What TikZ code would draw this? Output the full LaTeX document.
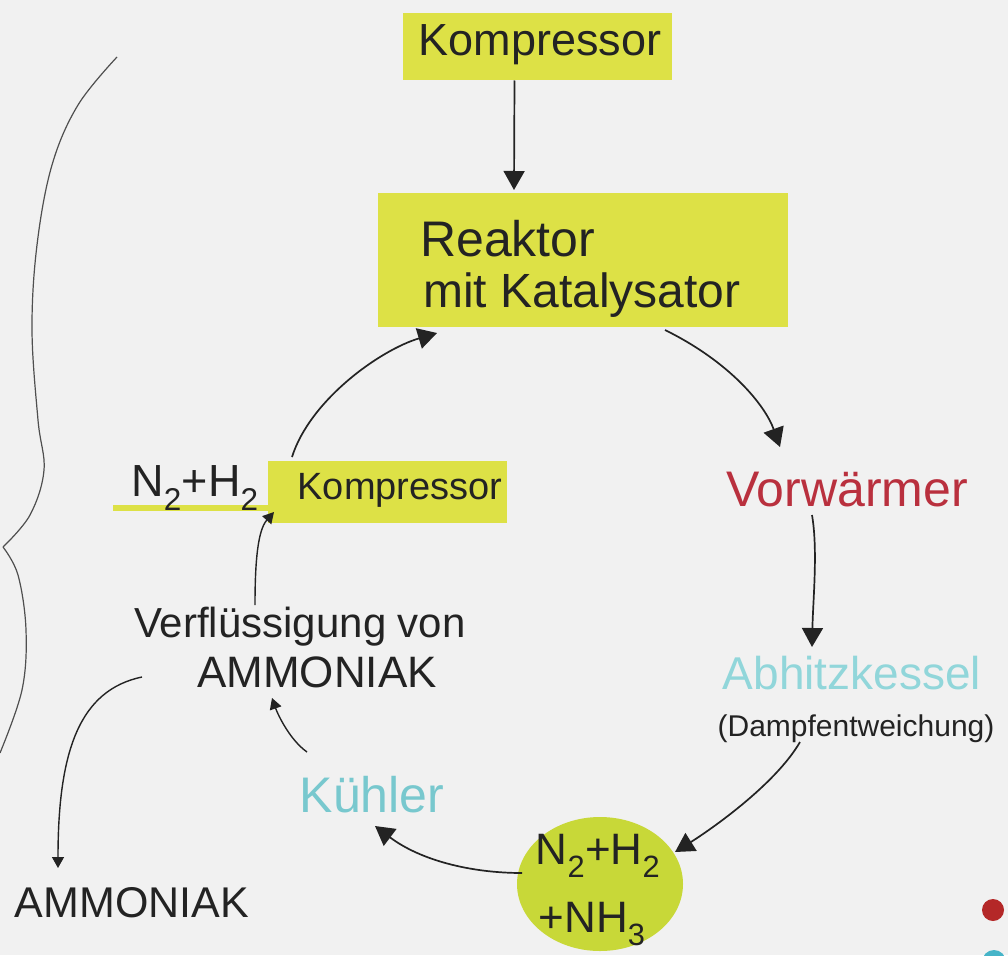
\documentclass[tikz,border=0pt]{standalone}
\usepackage{fontspec}
\setmainfont{Liberation Sans}
\usetikzlibrary{arrows.meta,shapes.geometric}
\definecolor{bgc}{RGB}{241,241,241}
\definecolor{hiyel}{RGB}{221,225,70}
\definecolor{blobc}{RGB}{200,216,56}
\definecolor{redtxt}{RGB}{185,48,62}
\definecolor{cyantxt}{RGB}{145,214,218}
\definecolor{kuehlc}{RGB}{120,200,206}
\definecolor{ink}{RGB}{35,35,35}
\definecolor{dotred}{RGB}{180,40,40}
\definecolor{dotcyan}{RGB}{70,180,200}
\newcommand{\hsz}[1]{\fontsize{#1}{#1}\selectfont}
\begin{document}
\begin{tikzpicture}[x=1pt,y=-1pt,
  lbl/.style={inner sep=0pt,text=ink},
  hbox/.style={fill=hiyel,inner sep=0pt},
  conn/.style={draw=ink,line width=1.7pt,-{Triangle[length=19pt,width=21pt]}},
  connsm/.style={draw=ink,line width=1.4pt,-{Triangle[length=11pt,width=12pt]}},
  brace/.style={draw=ink!80,line width=1.2pt}]
\useasboundingbox (0,0) rectangle (1008,955);
\fill[bgc] (0,0) rectangle (1008,955);

% boxes
\node[hbox,minimum width=269pt,minimum height=67pt] (k1) at (537.5,46.5) {};
\node[lbl] (k1t) at (540,45) {\hsz{45}Kompressor};
\node[hbox,minimum width=410pt,minimum height=134pt] (reak) at (583,260) {};
\node[lbl,anchor=west] (reak1) at (420,239) {\hsz{50}Reaktor};
\node[lbl,anchor=west] (reak2) at (423,295) {\hsz{48}mit Katalysator};
\node[hbox,minimum width=239pt,minimum height=62pt] (k2) at (387.5,492) {};
\node[lbl] (k2t) at (400,490) {\hsz{38}Kompressor};
\draw[hiyel,line width=6pt] (113,508) -- (k2.west |- 0,508);
\node[lbl] (n2h2) at (195,488) {\hsz{45}N\textsubscript{2}+H\textsubscript{2}};

% blob
\node[ellipse,fill=blobc,minimum width=166pt,minimum height=134pt,inner sep=0pt] (blob) at (600,884) {};
\node[lbl] (blobt1) at (598,856) {\hsz{44}N\textsubscript{2}+H\textsubscript{2}};
\node[lbl] (blobt2) at (592,924) {\hsz{44}+NH\textsubscript{3}};

% labels
\node[lbl,text=redtxt] (vorw) at (847,490) {\hsz{50}Vorwärmer};
\node[lbl,text=cyantxt] (abh) at (852,673) {\hsz{46}Abhitzkessel};
\node[lbl] (dampf) at (856,729) {\hsz{30}(Dampfentweichung)};
\node[lbl,text=kuehlc] (kuehl) at (372,795) {\hsz{50}Kühler};
\node[lbl] (verf) at (300,627) {\hsz{42}Verflüssigung von};
\node[lbl] (verf2) at (317,672) {\hsz{44}AMMONIAK};
\node[lbl] (amm) at (132,903) {\hsz{43}AMMONIAK};

% dots
\fill[dotred] (993,910) circle (11pt);
\fill[dotcyan] (994,962) circle (12pt);

% connectors
\draw[conn] ([shift={(-23,34)}]k1.center) -- ([shift={(-69,-70)}]reak.center);
\draw[conn] ([shift={(82,70)}]reak.center) .. controls (730,362) and (765,405) .. ([shift={(-67,-43)}]vorw.center);
\draw[conn] ([shift={(-35,25)}]vorw.center) .. controls (818,550) and (813,600) .. ([shift={(-40,-26)}]abh.center);
\draw[conn] ([shift={(-56,13)}]dampf.center) .. controls (775,785) and (710,830) .. ([shift={(75,-32)}]blob.center);
\draw[conn] ([shift={(-78,-11)}]blob.center) .. controls (470,873) and (420,860) .. ([shift={(3,31)}]kuehl.center);
\draw[connsm] ([shift={(-65,-43)}]kuehl.center) .. controls (290,740) and (278,715) .. ([shift={(-45,26)}]verf2.center);
\draw[connsm] ([shift={(-45,-22)}]verf.center) .. controls (255,560) and (258,530) .. ([shift={(-113.5,20)}]k2.center);
\draw[conn] ([shift={(-95.5,-35)}]k2.center) .. controls (310,400) and (380,350) .. ([shift={(-146,73)}]reak.center);
\draw[connsm] ([shift={(-175,5)}]verf2.center) .. controls (80,690) and (58,750) .. ([shift={(-74,-35)}]amm.center);

% brace
\draw[brace] plot[smooth,tension=0.6] coordinates {(117,57) (78,105) (52,165) (37,245) (32,330) (38,420) (44,470) (30,515) (3,547)};
\draw[brace] plot[smooth,tension=0.6] coordinates {(3,547) (18,575) (26,630) (22,690) (0,753)};
\end{tikzpicture}
\end{document}
